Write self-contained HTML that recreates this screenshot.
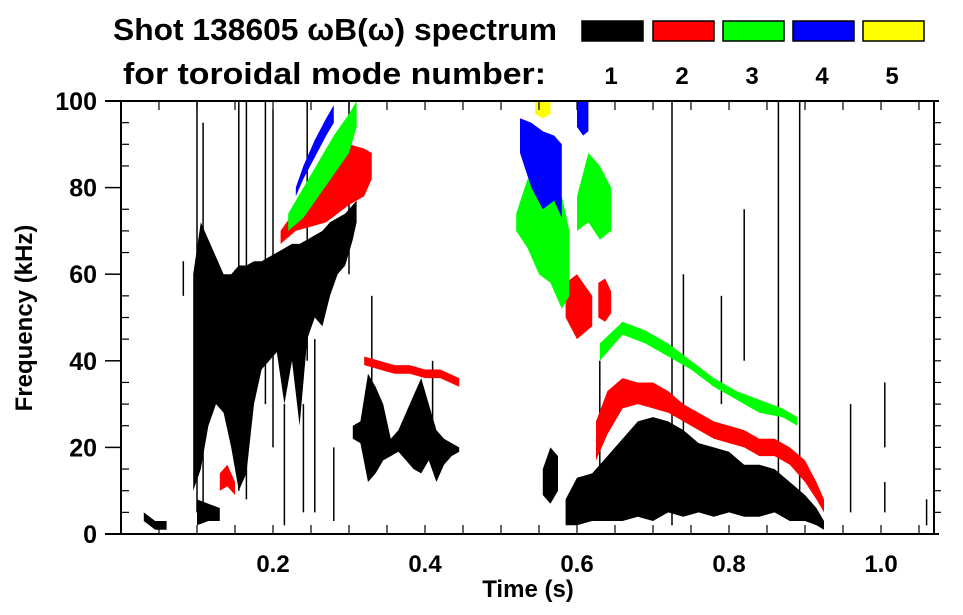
<!DOCTYPE html>
<html><head><meta charset="utf-8"><style>
html,body{margin:0;padding:0;background:#fff;}
svg{display:block;font-family:"Liberation Sans",Arial,sans-serif;font-weight:bold;}
</style></head><body>
<svg id="chart" width="963" height="615" viewBox="0 0 963 615" xmlns="http://www.w3.org/2000/svg">
<text x="113" y="40" font-size="31" textLength="444" lengthAdjust="spacingAndGlyphs">Shot 138605 ωB(ω) spectrum</text>
<text x="123" y="84" font-size="31" textLength="423" lengthAdjust="spacingAndGlyphs">for toroidal mode number:</text>
<g id="legend"></g>
<g id="marks"></g>
<g id="axes"></g>
<text x="528" y="597" font-size="24" text-anchor="middle">Time (s)</text>
<text x="0" y="0" font-size="24" text-anchor="middle" transform="translate(32,318) rotate(-90)">Frequency (kHz)</text>
</svg>
<script>
// ---- data ----
const modeNumbers=[1,2,3,4,5];
const modeColors=["#000000","#ff0000","#00ff00","#0000ff","#ffff00"];
const xTicks=[0.2,0.4,0.6,0.8,1.0];
const xTickLabels=["0.2","0.4","0.6","0.8","1.0"];
const yTicks=[0,20,40,60,80,100];
const yTickLabels=["0","20","40","60","80","100"];

// black (n=1)
const blkA_t=[0.095,0.105,0.115,0.125,0.135,0.145,0.155,0.165,0.175,0.185,0.195,0.205,0.215,0.225,0.235,0.245,0.255,0.265,0.275,0.285,0.295,0.305,0.31];
const blkA_hi=[60,72,68,64,60,60,62,62,63,63,64,65,66,67,67,68,69,70,72,73,74,76,77];
const blkA_lo=[10,15,25,30,28,20,10,14,30,38,40,42,30,40,25,45,50,48,55,60,62,68,72];
const blkB_t=[0.305,0.315,0.325,0.335,0.345,0.355,0.365,0.375,0.385,0.395,0.405,0.415,0.425,0.435,0.445];
const blkB_hi=[25,26,37,34,30,22,24,28,32,36,30,24,22,21,20];
const blkB_lo=[22,21,12,14,17,18,19,17,15,14,17,12,16,18,19];
const blkC_t=[0.585,0.6,0.62,0.64,0.66,0.68,0.7,0.72,0.74,0.76,0.78,0.8,0.82,0.84,0.86,0.88,0.9,0.915,0.925];
const blkC_hi=[8,13,14,18,22,26,27,26,24,21,20,19,16,16,15,12,9,6,3];
const blkC_lo=[2,2,3,3,3,4,3,5,4,5,4,5,4,4,5,3,3,2,1];
const blkD_t=[0.555,0.565,0.575];
const blkD_hi=[15,20,18];
const blkD_lo=[9,7,10];
const blkE_t=[0.03,0.045,0.06];
const blkE_hi=[5,3,3];
const blkE_lo=[3,1,1];
const blkF_t=[0.1,0.115,0.13];
const blkF_hi=[8,7,6];
const blkF_lo=[2,3,3];
// red (n=2)
const redA_t=[0.21,0.23,0.25,0.27,0.285,0.3,0.32,0.33];
const redA_hi=[70,75,78,82,86,90,89,88];
const redA_lo=[67,70,71,72,74,76,78,82];
const redB_t=[0.32,0.34,0.36,0.38,0.4,0.42,0.445];
const redB_hi=[41,40,39,39,38,38,36];
const redB_lo=[39,38,37,37,36,36,34];
const redC_t=[0.625,0.64,0.66,0.68,0.7,0.72,0.74,0.76,0.78,0.8,0.82,0.84,0.86,0.88,0.9,0.915,0.925];
const redC_hi=[26,33,36,35,35,33,30,28,26,25,24,22,22,20,17,12,8];
const redC_lo=[17,23,29,30,29,28,26,24,22,21,20,18,18,16,12,8,5];
const redD_t=[0.585,0.6,0.62];
const redD_hi=[58,60,55];
const redD_lo=[50,45,48];
const redE_t=[0.628,0.637,0.645];
const redE_hi=[58,59,56];
const redE_lo=[50,49,51];
const redF_t=[0.13,0.14,0.15];
const redF_hi=[14,16,12];
const redF_lo=[10,11,9];
// green (n=3)
const grnA_t=[0.22,0.24,0.26,0.28,0.3,0.31];
const grnA_hi=[74,80,86,92,97,100];
const grnA_lo=[70,73,78,83,88,94];
const grnB_t=[0.52,0.535,0.55,0.565,0.58,0.59];
const grnB_hi=[74,82,82,80,78,70];
const grnB_lo=[70,66,60,58,52,55];
const grnC_t=[0.6,0.615,0.63,0.645];
const grnC_hi=[78,88,85,80];
const grnC_lo=[70,72,68,70];
const grnD_t=[0.63,0.66,0.69,0.72,0.75,0.78,0.81,0.84,0.87,0.89];
const grnD_hi=[44,49,47,44,40,36,33,31,29,27];
const grnD_lo=[40,46,44,41,38,34,31,28,27,25];
// blue (n=4)
const bluA_t=[0.23,0.24,0.255,0.27,0.28];
const bluA_hi=[80,85,91,96,99];
const bluA_lo=[78,82,87,92,95];
const bluB_t=[0.525,0.54,0.555,0.57,0.58];
const bluB_hi=[96,95,93,92,90];
const bluB_lo=[88,80,75,77,73];
const bluC_t=[0.6,0.608,0.615];
const bluC_hi=[100,100,100];
const bluC_lo=[94,92,93];
// yellow (n=5)
const yelA_t=[0.545,0.555,0.565];
const yelA_hi=[100,100,100];
const yelA_lo=[97,96,97];
// vertical streaks
const streakT=[0.1,0.108,0.155,0.165,0.19,0.2,0.245,0.24,0.255,0.28,0.725,0.865,0.893,0.82,0.74,0.96,1.005,1.005,1.06,0.33,0.41,0.082,0.215,0.3,0.63,0.79];
const streakLo=[5,3,10,8,30,20,40,5,5,3,2,5,10,40,20,5,20,5,2,30,20,55,2,60,5,30];
const streakHi=[100,95,100,100,100,98,100,30,45,20,100,100,100,75,60,30,35,12,8,55,40,63,30,100,40,55];

// ---- axis functions ----
const X0=121,X1=934,Y0=534,Y1=101,TMAX=(934-121)/760;
function xs(t){return X0+t*760;}
function ys(f){return Y0-(f/100)*(Y0-Y1);}

const NS="http://www.w3.org/2000/svg";
const marks=document.getElementById('marks');
const axes=document.getElementById('axes');
const legend=document.getElementById('legend');

function band(t,lo,hi,color,name){
  let pts=[];
  for(let i=0;i<t.length;i++)pts.push(xs(t[i]).toFixed(1)+","+ys(hi[i]).toFixed(1));
  for(let i=t.length-1;i>=0;i--)pts.push(xs(t[i]).toFixed(1)+","+ys(lo[i]).toFixed(1));
  const p=document.createElementNS(NS,'polygon');
  p.setAttribute('points',pts.join(' '));
  p.setAttribute('fill',color);
  
  
  marks.appendChild(p);
}
for(let i=0;i<streakT.length;i++){
  const l=document.createElementNS(NS,'line');
  l.setAttribute('x1',xs(streakT[i]));l.setAttribute('x2',xs(streakT[i]));
  l.setAttribute('y1',ys(streakLo[i]));l.setAttribute('y2',ys(streakHi[i]));
  l.setAttribute('stroke','#000');l.setAttribute('stroke-width','1.5');
  
  
  marks.appendChild(l);
}
band(blkA_t,blkA_lo,blkA_hi,modeColors[0],'n1-early-burst');
band(blkB_t,blkB_lo,blkB_hi,modeColors[0],'n1-mid-burst');
band(blkC_t,blkC_lo,blkC_hi,modeColors[0],'n1-late-band');
band(blkD_t,blkD_lo,blkD_hi,modeColors[0],'n1-small-blob');
band(blkE_t,blkE_lo,blkE_hi,modeColors[0],'n1-early-wiggle');
band(blkF_t,blkF_lo,blkF_hi,modeColors[0],'n1-low-bits');
band(redA_t,redA_lo,redA_hi,modeColors[1],'n2-early-band');
band(redB_t,redB_lo,redB_hi,modeColors[1],'n2-mid-line');
band(redC_t,redC_lo,redC_hi,modeColors[1],'n2-late-band');
band(redD_t,redD_lo,redD_hi,modeColors[1],'n2-blob');
band(redE_t,redE_lo,redE_hi,modeColors[1],'n2-blob-2');
band(redF_t,redF_lo,redF_hi,modeColors[1],'n2-low-blob');
band(grnA_t,grnA_lo,grnA_hi,modeColors[2],'n3-early-band');
band(grnB_t,grnB_lo,grnB_hi,modeColors[2],'n3-blob');
band(grnC_t,grnC_lo,grnC_hi,modeColors[2],'n3-blob-2');
band(grnD_t,grnD_lo,grnD_hi,modeColors[2],'n3-late-line');
band(bluA_t,bluA_lo,bluA_hi,modeColors[3],'n4-early-band');
band(bluB_t,bluB_lo,bluB_hi,modeColors[3],'n4-blob');
band(bluC_t,bluC_lo,bluC_hi,modeColors[3],'n4-top-blob');
band(yelA_t,yelA_lo,yelA_hi,modeColors[4],'n5-top-blob');

// legend
const boxX=[582,653,723,793,863];
for(let i=0;i<modeNumbers.length;i++){
  const r=document.createElementNS(NS,'rect');
  r.setAttribute('x',boxX[i]);r.setAttribute('y',21);r.setAttribute('width',61);r.setAttribute('height',20);
  r.setAttribute('fill',modeColors[i]);r.setAttribute('stroke','#000');r.setAttribute('stroke-width','1.5');
  
  
  legend.appendChild(r);
  const tx=document.createElementNS(NS,'text');
  tx.setAttribute('x',boxX[i]+29);tx.setAttribute('y',84);tx.setAttribute('font-size','24');tx.setAttribute('text-anchor','middle');
  tx.textContent=String(modeNumbers[i]);
  
  
  legend.appendChild(tx);
}

// axes
function line(x1,y1,x2,y2,w){
  const l=document.createElementNS(NS,'line');
  l.setAttribute('x1',x1);l.setAttribute('y1',y1);l.setAttribute('x2',x2);l.setAttribute('y2',y2);
  l.setAttribute('stroke','#000');l.setAttribute('stroke-width',w||1.5);
  
  
  axes.appendChild(l);
}
line(X0-16,Y0,X1+5,Y0,2);
line(X0-16,Y1,X1+5,Y1,2);
line(X0,Y1,X0,Y0,2);
line(X1,Y1,X1,Y0,2);
for(let t=0.05;t<TMAX;t+=0.05){
  line(xs(t),Y0,xs(t),Y0-9,1.2);
  line(xs(t),Y1,xs(t),Y1+9,1.2);
}
for(let f=5;f<100;f+=5){
  if(f%20===0){line(X0-16,ys(f),X0,ys(f),1.5);}
  else{line(X0,ys(f),X0+8,ys(f),1.2);}
  line(X1,ys(f),X1+7,ys(f),1.2);
}
for(let i=0;i<xTicks.length;i++){
  const tx=document.createElementNS(NS,'text');
  tx.setAttribute('x',xs(xTicks[i]));tx.setAttribute('y',572);tx.setAttribute('font-size','24');tx.setAttribute('text-anchor','middle');
  tx.textContent=xTickLabels[i];
  
  
  axes.appendChild(tx);
}
for(let i=0;i<yTicks.length;i++){
  const tx=document.createElementNS(NS,'text');
  tx.setAttribute('x',97);tx.setAttribute('y',ys(yTicks[i])+9);tx.setAttribute('font-size','25');tx.setAttribute('text-anchor','end');
  tx.textContent=yTickLabels[i];
  
  
  axes.appendChild(tx);
}
</script>
</body></html>
